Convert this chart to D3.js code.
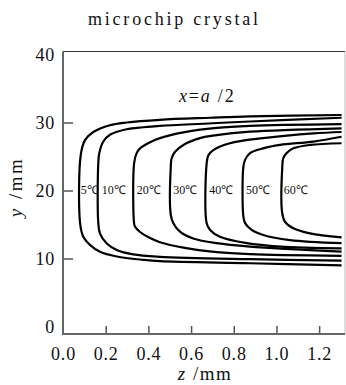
<!DOCTYPE html>
<html>
<head>
<meta charset="utf-8">
<script src="https://cdn.jsdelivr.net/npm/d3@7"></script>
</head>
<body style="margin:0">
<svg id="chart" width="346" height="385" font-family="Liberation Serif"></svg>
<script>
// isotherm points [z (mm), y (mm)], from top right, round the left end, to bottom right
var c5  = [[1.305,31.1],[0.876,30.9],[0.69,30.7],[0.454,30.4],[0.298,30.0],[0.22,29.6],[0.142,28.6],[0.103,27.4],[0.083,25.2],
           [0.080,15.2],[0.095,13.2],[0.126,12.0],[0.173,11.0],[0.252,10.3],[0.376,9.8],[0.454,9.6],[0.876,9.3],[1.305,9.0]];
var c10 = [[1.305,30.7],[0.876,30.15],[0.454,29.5],[0.376,29.3],[0.298,29.0],[0.22,28.2],[0.189,27.2],[0.17,25.5],[0.165,23.8],
           [0.165,15.4],[0.173,13.7],[0.205,12.2],[0.252,11.25],[0.329,10.6],[0.454,10.25],[0.876,9.9],[1.305,9.7]];
var c20 = [[1.305,29.75],[0.876,29.5],[0.72,29.2],[0.564,28.55],[0.454,27.7],[0.408,27.1],[0.361,26.2],[0.345,25.5],[0.333,24.0],
           [0.333,15.2],[0.337,14.7],[0.361,13.9],[0.408,13.0],[0.454,12.4],[0.564,11.6],[0.72,10.95],[0.876,10.65],[1.305,10.4]];
var c30 = [[1.305,29.15],[0.876,28.65],[0.72,28.15],[0.642,27.7],[0.564,26.7],[0.525,25.7],[0.509,24.75],[0.505,23.5],
           [0.505,16.4],[0.517,15.2],[0.548,13.95],[0.61,12.95],[0.72,12.25],[0.876,11.75],[1.305,11.0]];
var c40 = [[1.305,28.6],[1.173,28.4],[0.938,27.7],[0.782,26.95],[0.704,25.95],[0.681,25.2],[0.673,24.0],
           [0.673,15.2],[0.689,14.2],[0.735,13.2],[0.861,12.25],[1.017,11.75],[1.305,11.5]];
var c50 = [[1.305,27.9],[1.173,27.2],[1.017,26.7],[0.938,26.2],[0.876,25.5],[0.853,24.5],[0.845,23.5],
           [0.845,16.15],[0.853,15.2],[0.884,14.2],[0.938,13.45],[1.063,12.7],[1.305,12.25]];
var c60 = [[1.305,26.95],[1.157,26.7],[1.079,26.2],[1.048,25.5],[1.032,24.75],[1.027,23.3],
           [1.027,16.65],[1.04,15.4],[1.079,14.45],[1.157,13.7],[1.305,13.1]];

var temps  = ["5℃", "10℃", "20℃", "30℃", "40℃", "50℃", "60℃"];
var labelZ = [0.083, 0.181, 0.345, 0.517, 0.685, 0.857, 1.034];
var labelY = 20.1;

var xTicks = [0.0, 0.2, 0.4, 0.6, 0.8, 1.0, 1.2];
var yTicks = [0, 10, 20, 30, 40];

var svg = d3.select("#chart"),
    boxL = 63, boxR = 345, boxT = 51.5, boxB = 334,
    x = d3.scaleLinear().domain([0, 1.3]).range([63, 340.5]),
    y = d3.scaleLinear().domain([0, 40]).range([326.5, 54.5]);

function addText(parent, size) {
    return parent.append("text")
        .attr("font-family", "Liberation Serif")
        .attr("font-size", size)
        .attr("fill", "#111");
}

// title
addText(svg, 18)
    .attr("x", 88).attr("y", 25)
    .attr("textLength", 170)
    .attr("lengthAdjust", "spacing")
    .text("microchip crystal");

// frame
svg.append("line").attr("x1", boxL).attr("x2", boxR).attr("y1", boxT).attr("y2", boxT)
    .attr("stroke", "#333").attr("stroke-width", 1.2);
svg.append("line").attr("x1", boxR).attr("x2", boxR).attr("y1", boxT).attr("y2", boxB)
    .attr("stroke", "#bbb").attr("stroke-width", 1);

// axes
var xAxis = svg.append("g")
    .attr("transform", "translate(0," + boxB + ")")
    .call(d3.axisBottom(x).tickValues(xTicks).tickFormat(d3.format(".1f"))
        .tickSizeInner(-8).tickSizeOuter(0).tickPadding(13));
var yAxis = svg.append("g")
    .attr("transform", "translate(" + boxL + ",0)")
    .call(d3.axisLeft(y).tickValues(yTicks).tickFormat(d3.format("d"))
        .tickSizeInner(-10).tickSizeOuter(0).tickPadding(8));

[xAxis, yAxis].forEach(function(g) {
    g.attr("font-family", "Liberation Serif").attr("font-size", 18);
    g.select(".domain").remove();
    g.selectAll(".tick line").attr("stroke", "#555").attr("stroke-width", 1.5);
    g.selectAll(".tick text")
        .attr("font-family", "Liberation Serif")
        .attr("letter-spacing", 0.8)
        .attr("fill", "#111");
});
yAxis.selectAll(".tick line").filter(function(d) { return d == 0 || d == 40; }).remove();
xAxis.selectAll(".tick line").filter(function(d) { return d == 0; }).remove();

svg.append("line").attr("x1", boxL).attr("x2", boxL).attr("y1", boxT).attr("y2", boxB + 1)
    .attr("stroke", "#666").attr("stroke-width", 2);
svg.append("line").attr("x1", boxL).attr("x2", boxR).attr("y1", boxB).attr("y2", boxB)
    .attr("stroke", "#666").attr("stroke-width", 2);

// isotherms
var line = d3.line()
    .x(function(d) { return x(d[0]); })
    .y(function(d) { return y(d[1]); })
    .curve(d3.curveCatmullRom.alpha(0.5));

[c5, c10, c20, c30, c40, c50, c60].forEach(function(c) {
    svg.append("path")
        .attr("d", line(c))
        .attr("fill", "none")
        .attr("stroke", "#000")
        .attr("stroke-width", 2.2);
});

temps.forEach(function(t, i) {
    addText(svg, 12)
        .attr("x", x(labelZ[i]))
        .attr("y", y(labelY))
        .attr("dy", "0.35em")
        .text(t);
});

// annotation
var ann = addText(svg, 18).attr("x", 179).attr("y", 102).attr("letter-spacing", 1.8);
ann.append("tspan").attr("font-style", "italic").text("x");
ann.append("tspan").text("=");
ann.append("tspan").attr("font-style", "italic").text("a");
ann.append("tspan").text(" /2");

// axis titles
var xt = addText(svg, 19).attr("x", 205).attr("y", 380).attr("text-anchor", "middle")
    .attr("letter-spacing", 1.5);
xt.append("tspan").attr("font-style", "italic").text("z");
xt.append("tspan").text(" /mm");

var yt = addText(svg, 19).attr("transform", "translate(22,187) rotate(-90)")
    .attr("text-anchor", "middle")
    .attr("letter-spacing", 2.5);
yt.append("tspan").attr("font-style", "italic").text("y");
yt.append("tspan").text(" /mm");
</script>
</body>
</html>
